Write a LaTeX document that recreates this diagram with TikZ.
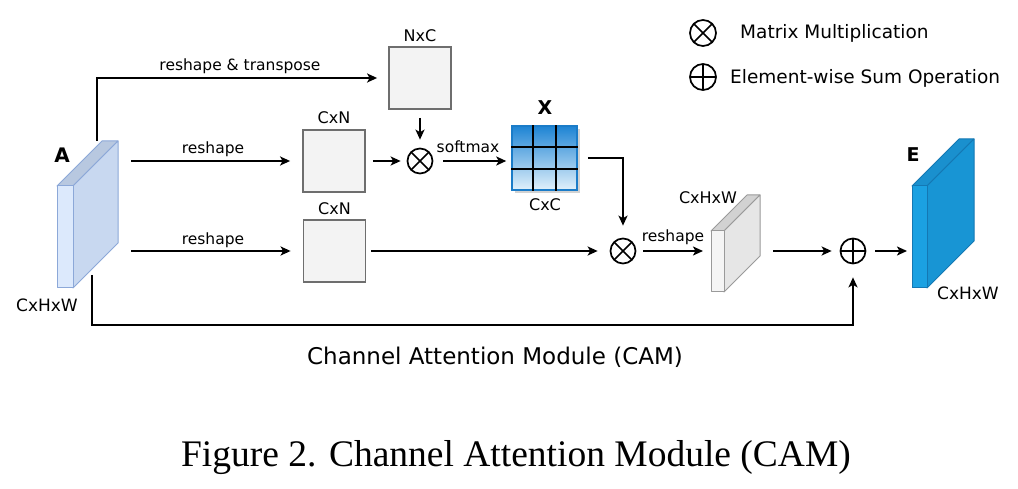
\documentclass[tikz,border=0pt]{standalone}
\usepackage{fontspec}
\setmainfont{Liberation Serif}
\newfontfamily\lblfont{DejaVu Sans}
\usetikzlibrary{arrows.meta,calc,shadows}
\definecolor{boxfill}{HTML}{F3F3F3}
\definecolor{boxedge}{HTML}{6E6E6E}
\definecolor{afront}{HTML}{DCE9FC}
\definecolor{aside}{HTML}{C8D8F0}
\definecolor{atop}{HTML}{B8C8E0}
\definecolor{aedge}{HTML}{8CA8D8}
\definecolor{efront}{HTML}{1BA1E2}
\definecolor{eside}{HTML}{1895D4}
\definecolor{etop}{HTML}{1A90CE}
\definecolor{eedge}{HTML}{1478B4}
\definecolor{gfront}{HTML}{F5F5F5}
\definecolor{gside}{HTML}{E6E6E6}
\definecolor{gtop}{HTML}{D2D2D2}
\definecolor{gedge}{HTML}{9A9A9A}
\definecolor{xtop}{HTML}{1E84D4}
\definecolor{xbot}{HTML}{E2F1FB}
\definecolor{xedge}{HTML}{1B7CC8}
\newcommand\drawslab[9]{%
  \filldraw[draw=#9, fill=#8, line width=1pt, line join=round] (#1,#2) -- ++(#5,-#5) -- ++(#3,0) -- ++(-#5,#5) -- cycle;
  \filldraw[draw=#9, fill=#7, line width=1pt, line join=round] (#1+#3,#2) -- ++(#5,-#5) -- ++(0,#4) -- ++(-#5,#5) -- cycle;
  \filldraw[draw=#9, fill=#6, line width=1pt, line join=round] (#1,#2) rectangle ++(#3,#4);
}
\begin{document}
\begin{tikzpicture}[x=1pt,y=-1pt,
  conn/.style={line width=2pt, -{Stealth[length=10pt,width=9pt,inset=2.5pt]}},
  sq/.style={draw=boxedge, fill=boxfill, line width=1.8pt, minimum width=62pt, minimum height=62pt, inner sep=0},
  op/.style={circle, draw, line width=1.7pt, minimum size=25pt, inner sep=0},
  mult/.style={op, path picture={\draw[line width=1.7pt] (path picture bounding box.north west) -- (path picture bounding box.south east) (path picture bounding box.north east) -- (path picture bounding box.south west);}},
  plus/.style={op, path picture={\draw[line width=1.7pt] (path picture bounding box.north) -- (path picture bounding box.south) (path picture bounding box.east) -- (path picture bounding box.west);}},
  lab/.style={font=\lblfont\fontsize{15.5}{18}\selectfont, inner sep=0},
  dim/.style={font=\lblfont\fontsize{16}{18}\selectfont, inner sep=0},
  big/.style={font=\lblfont\bfseries\fontsize{20}{22}\selectfont, inner sep=0},
  leg/.style={font=\lblfont\fontsize{18.5}{20}\selectfont, inner sep=0, anchor=west}
]
\useasboundingbox (0,0) rectangle (1018,489);
\fill[white] (0,0) rectangle (1018,489);

% slabs
\drawslab{57}{186}{16}{102}{45}{afront}{aside}{atop}{aedge}
\drawslab{711}{231}{13}{61}{36}{gfront}{gside}{gtop}{gedge}
\drawslab{912}{186}{15}{102}{47}{efront}{eside}{etop}{eedge}

\coordinate (Atop) at (97,141);
\coordinate (Ar1) at (131,161);
\coordinate (Ar2) at (131,251);
\coordinate (Abot) at (92,275);
\coordinate (Gin) at (711,251);
\coordinate (Gout) at (773,251);
\coordinate (Ein) at (912,251);

\node[big] (Alab) at (62,155) {A};
\node[dim, font=\lblfont\fontsize{17}{18}\selectfont] (Adim) at (47,305) {CxHxW};
\node[big, font=\lblfont\bfseries\fontsize{19}{20}\selectfont] (Elab) at (913,155) {E};
\node[dim, font=\lblfont\fontsize{17}{18}\selectfont] (Edim) at (968,293) {CxHxW};
\node[dim] (Gdim) at (708,198) {CxHxW};

% boxes
\node[sq] (NxC) at (420,78) {};
\node[dim, anchor=south] (NxClab) at (420,42) {NxC};
\node[sq] (CxN1) at (334,161) {};
\node[dim, anchor=south] (CxN1lab) at (334,124) {CxN};
\node[sq] (CxN2) at (334.5,251) {};
\node[dim, anchor=south] (CxN2lab) at (334.5,215) {CxN};

% matrix X
\node[minimum width=65pt, minimum height=64pt, inner sep=0, draw=xedge, line width=1.5pt,
  top color=xtop, bottom color=xbot,
  drop shadow={shadow xshift=3pt, shadow yshift=-3pt, opacity=0.35}] (X) at (544.5,158) {};
\draw[line width=2pt] ($(X.north west)!1/3!(X.north east)$) -- ($(X.south west)!1/3!(X.south east)$)
  ($(X.north west)!2/3!(X.north east)$) -- ($(X.south west)!2/3!(X.south east)$)
  ($(X.north west)!1/3!(X.south west)$) -- ($(X.north east)!1/3!(X.south east)$)
  ($(X.north west)!2/3!(X.south west)$) -- ($(X.north east)!2/3!(X.south east)$);
\node[big, font=\lblfont\bfseries\fontsize{19}{20}\selectfont] (Xlab) at (545,108) {X};
\node[dim] (Xdim) at (545,205) {CxC};

% operators
\node[mult] (m1) at (420,161) {};
\node[mult] (m2) at (623,251) {};
\node[plus] (p) at (853,251) {};

% connectors
\draw[conn, shorten >=11pt] (Atop) |- (NxC.west);
\node[lab] (t1) at (240,66) {reshape \& transpose};
\draw[conn, shorten >=12pt] (Ar1) -- (CxN1.west);
\node[lab] (t2) at (213,149) {reshape};
\draw[conn, shorten <=7pt, shorten >=6pt] (CxN1.east) -- (m1.west);
\draw[conn, shorten <=8pt, shorten >=8pt] (NxC.south) -- (m1.north);
\draw[conn, shorten <=10pt, shorten >=5pt] (m1.east) -- (m1.east -| X.west);
\node[lab] (t3) at (468,147) {softmax};
\draw[conn, shorten <=10pt, shorten >=12pt] (X.east) -| (m2.north);
\draw[conn, shorten >=12pt] (Ar2) -- (CxN2.west);
\node[lab] (t4) at (213,240) {reshape};
\draw[conn, shorten <=5pt, shorten >=12pt] (CxN2.east) -- (m2.west);
\draw[conn, shorten <=7pt, shorten >=8pt] (m2.east) -- (Gin);
\node[lab] (t5) at (673,237) {reshape};
\draw[conn, shorten >=8pt] (Gout) -- (p.west);
\draw[conn, shorten <=9pt, shorten >=5pt] (p.east) -- (Ein);
\draw[conn, shorten >=13pt] (Abot) -- ++(0,50) -| (p.south);
\node[font=\lblfont\fontsize{23}{26}\selectfont, inner sep=0] (cam) at (495,357) {Channel Attention Module (CAM)};

% legend
\node[mult, minimum size=26pt] (lm) at (703,33) {};
\node[leg] (lmt) at (740,33) {Matrix Multiplication};
\node[plus, minimum size=26pt] (lp) at (703,77) {};
\node[leg] (lpt) at (730,78) {Element-wise Sum Operation};

% caption
\node[font=\fontsize{37.5}{40}\selectfont, inner sep=0] (cap) at (516,458) {Figure 2. Channel Attention Module (CAM)};
\end{tikzpicture}
\end{document}
